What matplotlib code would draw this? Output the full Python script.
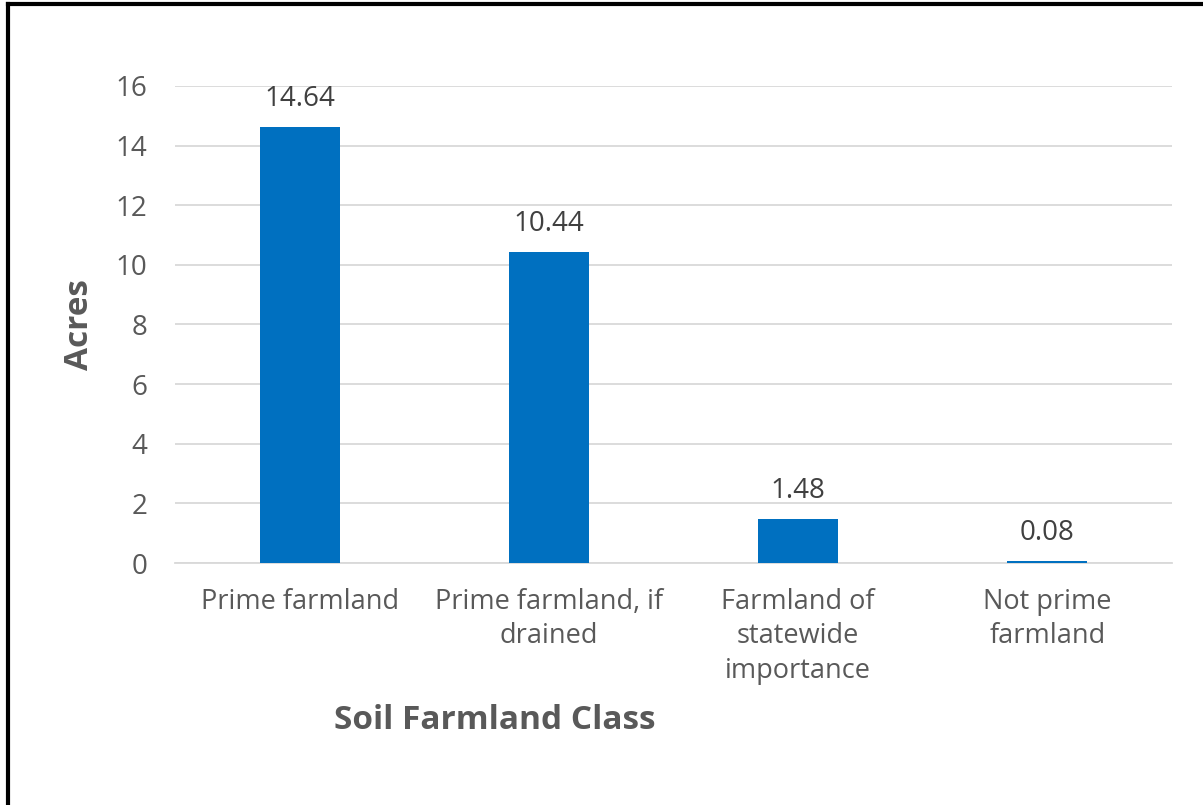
import matplotlib.pyplot as plt
from matplotlib.lines import Line2D

# data
categories = ["Prime farmland", "Prime farmland, if\ndrained",
              "Farmland of\nstatewide\nimportance", "Not prime\nfarmland"]
acres = [14.64, 10.44, 1.48, 0.08]
yticks = [0, 2, 4, 6, 8, 10, 12, 14, 16]

plt.rcParams['font.family'] = ['Open Sans', 'DejaVu Sans']
gray = '#595959'

fig = plt.figure(figsize=(12.03, 8.05), dpi=100)
ax = fig.add_axes([0.1455, 0.3006, 0.8287, 0.5926])

x = range(len(categories))
ax.bar(x, acres, width=0.32, color='#0070C0', zorder=3)

# value labels
for i, v in enumerate(acres):
    ax.annotate('%.2f' % v, (i, v), xytext=(0, 10), textcoords='offset points',
                ha='center', va='bottom', fontsize=20, color='#404040')

ax.set_xlim(-0.5, len(categories) - 0.5)
ax.set_ylim(0, 16)
ax.set_yticks(yticks)
ax.set_xticks(list(x))
ax.set_xticklabels(categories, fontsize=19.5, color=gray, linespacing=1.3)
ax.tick_params(axis='y', labelsize=20, labelcolor=gray, length=0, pad=20)
ax.tick_params(axis='x', length=0, pad=18)
ax.grid(axis='y', color='#D9D9D9', linewidth=1.3, zorder=0)
for s in ['top', 'right', 'left']:
    ax.spines[s].set_visible(False)
ax.spines['bottom'].set_color('#D9D9D9')
ax.spines['bottom'].set_linewidth(1.3)

# axis titles
fig.text(80 / 1203, 1 - 325 / 805, 'Acres', fontsize=24, fontweight='bold',
         color=gray, ha='center', va='center', rotation=90)
fig.text(495 / 1203, 1 - 720 / 805, 'Soil Farmland Class', fontsize=24,
         fontweight='bold', color=gray, ha='center', va='center')

# left and top border
fig.add_artist(Line2D([7.5 / 1203, 7.5 / 1203], [0, 1 - 4.5 / 805], color='black', lw=3))
fig.add_artist(Line2D([7.5 / 1203, 1], [1 - 4.5 / 805, 1 - 4.5 / 805], color='black', lw=3))

plt.savefig('out.png', dpi=100)
